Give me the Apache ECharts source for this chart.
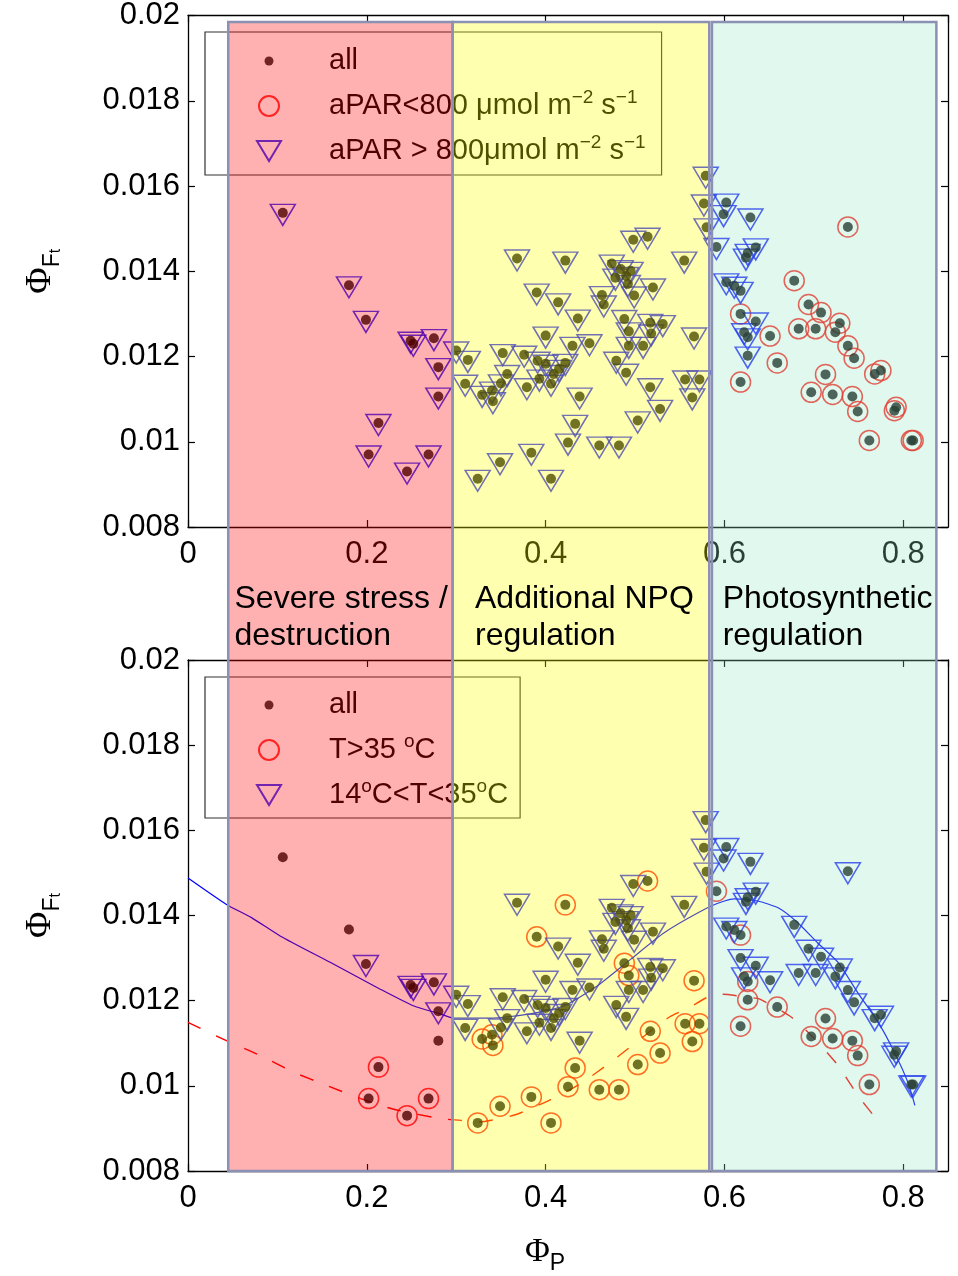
<!DOCTYPE html>
<html>
<head>
<meta charset="utf-8">
<script src="https://cdn.jsdelivr.net/npm/echarts@6/dist/echarts.min.js"></script>
<style>
  html, body { margin: 0; padding: 0; background: #fff; }
  #main { width: 958px; height: 1276px; }
</style>
</head>
<body>
<div id="main"></div>
<script>
var phiP = [
  0.106, 0.180, 0.199, 0.249, 0.252, 0.275, 0.280, 0.280, 0.213, 0.202, 0.269, 0.245,
  0.300, 0.313, 0.310, 0.329, 0.340, 0.341, 0.350, 0.357, 0.352, 0.376, 0.379, 0.391, 0.393, 0.400, 0.406, 0.409, 0.415, 0.422,
  0.400, 0.430, 0.449, 0.438, 0.433, 0.425, 0.384, 0.349, 0.324, 0.406,
  0.460, 0.482, 0.503, 0.528, 0.517, 0.490, 0.479, 0.493, 0.509, 0.493,
  0.488, 0.517, 0.531, 0.518, 0.566, 0.556, 0.572, 0.564, 0.436, 0.414,
  0.390, 0.368, 0.422, 0.463, 0.465, 0.474, 0.478, 0.484, 0.495, 0.492,
  0.490, 0.499, 0.520, 0.498, 0.514, 0.555, 0.579, 0.577, 0.580, 0.591,
  0.602, 0.599, 0.629, 0.738, 0.626, 0.635, 0.624, 0.678, 0.602, 0.611,
  0.618, 0.618, 0.635, 0.622, 0.626, 0.626, 0.618, 0.651, 0.659, 0.694,
  0.708, 0.683, 0.702, 0.729, 0.724, 0.738, 0.745, 0.768, 0.775, 0.713,
  0.697, 0.721, 0.743, 0.749, 0.792, 0.790, 0.762, 0.809, 0.811
];
var phiFt = [
  0.01537, 0.01367, 0.01286, 0.01237, 0.01230, 0.01243, 0.01175, 0.01106, 0.01044, 0.00970, 0.00970, 0.00930,
  0.01214, 0.01192, 0.01136, 0.01110, 0.01120, 0.01095, 0.01137, 0.01159, 0.01208, 0.01204, 0.01128, 0.01190, 0.01148, 0.01183, 0.01136, 0.01159, 0.01171, 0.01185,
  0.01249, 0.01225, 0.01231, 0.01106, 0.01042, 0.00998, 0.00974, 0.00952, 0.00913, 0.00913,
  0.00991, 0.00991, 0.01050, 0.01077, 0.01128, 0.01162, 0.01190, 0.01225, 0.01225, 0.01259,
  0.01288, 0.01279, 0.01276, 0.01254, 0.01247, 0.01146, 0.01146, 0.01104, 0.01289, 0.01327,
  0.01350, 0.01430, 0.01425, 0.01344, 0.01322, 0.01418, 0.01385, 0.01405, 0.01401, 0.01370,
  0.01389, 0.01343, 0.01362, 0.01474, 0.01481, 0.01425, 0.01624, 0.01559, 0.01503, 0.01457,
  0.01561, 0.01534, 0.01526, 0.01504, 0.01443, 0.01456, 0.01432, 0.01378, 0.01374, 0.01366,
  0.01354, 0.01300, 0.01282, 0.01257, 0.01245, 0.01202, 0.01140, 0.01248, 0.01185, 0.01322,
  0.01303, 0.01265, 0.01265, 0.01278, 0.01257, 0.01225, 0.01196, 0.01159, 0.01167, 0.01158,
  0.01116, 0.01111, 0.01106, 0.01071, 0.01081, 0.01073, 0.01003, 0.01003, 0.01003
];
// top panel: aPAR class (lo = <800, hi = >800)
var aparClass = [
  'hi','hi','hi','hi','hi','hi','hi','hi','hi','hi','hi','hi',
  'hi','hi','hi','hi','hi','hi','hi','hi','hi','hi','hi','hi','hi','hi','hi','hi','hi','hi',
  'hi','hi','hi','hi','hi','hi','hi','hi','hi','hi',
  'hi','hi','hi','hi','hi','hi','hi','hi','hi','hi',
  'hi','hi','hi','hi','hi','hi','hi','hi','hi','hi',
  'hi','hi','hi','hi','hi','hi','hi','hi','hi','hi',
  'hi','hi','hi','hi','hi','hi','hi','hi','hi','hi',
  'hi','hi','hi','lo','hi','hi','hi','lo','hi','hi',
  'hi','lo','hi','hi','hi','hi','lo','lo','lo','lo',
  'lo','lo','lo','lo','lo','lo','lo','lo','lo','lo',
  'lo','lo','lo','lo','lo','lo','lo','lo','lo'
];
// bottom panel: temperature class (hot = >35C, mid = 14..35C, cool = neither)
var tempClass = [
  'cool','cool','mid','mid','mid','mid','mid','cool','hot','hot','hot','hot',
  'mid','mid','mid','hot','hot','hot','mid','mid','mid','mid','mid','mid','mid','mid','mid','mid','mid','mid',
  'mid','mid','mid','mid','hot','hot','hot','hot','hot','hot',
  'hot','hot','hot','hot','hot','mid','mid','mid','mid','hot',
  'hot','mid','mid','mid','hot','hot','hot','hot','mid','mid',
  'hot','mid','hot','mid','mid','mid','mid','mid','mid','mid',
  'mid','mid','mid','mid','hot','mid','mid','mid','mid','hot',
  'mid','mid','mid','mid','mid','mid','mid','mid','mid','mid',
  'hot','mid','mid','mid','hot','hot','hot','mid','hot','mid',
  'mid','mid','mid','mid','mid','mid','mid','mid','mid','hot',
  'hot','hot','hot','hot','mid','mid','hot','mid','mid'
];

// fitted curves in the bottom panel
var blueFitP = [0.000, 0.043, 0.071, 0.103, 0.159, 0.215, 0.252, 0.282, 0.297, 0.338, 0.383, 0.421, 0.458, 0.495,
  0.533, 0.581, 0.600, 0.611, 0.637, 0.660, 0.682, 0.704, 0.727, 0.749, 0.772, 0.790, 0.805, 0.813];
var blueFitF = [0.01488, 0.01426, 0.01395, 0.01352, 0.01290, 0.01227, 0.01188, 0.01169, 0.01159, 0.01159, 0.01169, 0.01188, 0.01235, 0.01297,
  0.01360, 0.01418, 0.01434, 0.01439, 0.01434, 0.01418, 0.01383, 0.01336, 0.01290, 0.01219, 0.01149, 0.01079, 0.01009, 0.00954];
var redFitP = [0.000, 0.043, 0.081, 0.118, 0.155, 0.193, 0.230, 0.282, 0.305, 0.324, 0.366, 0.404, 0.439,
  0.473, 0.506, 0.538, 0.561, 0.581, 0.598, 0.626, 0.639, 0.675, 0.701, 0.727, 0.749, 0.768];
var redFitF = [0.01149, 0.01106, 0.01071, 0.01032, 0.01001, 0.00970, 0.00945, 0.00923, 0.00919, 0.00915, 0.00932, 0.00966, 0.01005,
  0.01056, 0.01110, 0.01161, 0.01184, 0.01208, 0.01215, 0.01208, 0.01204, 0.01161, 0.01110, 0.01048, 0.00978, 0.00927];

// regimes along Phi_P
var regionEdges = [[0.045, 0.296], [0.296, 0.583], [0.586, 0.837]];
var regionLabels = ['Severe stress /\ndestruction', 'Additional NPQ\nregulation', 'Photosynthetic\nregulation'];
var regionLabelP = [0.052, 0.321, 0.598];

var xMin = 0, xMax = 0.85, xStep = 0.2;
var yMin = 0.008, yMax = 0.02, yStep = 0.002;

var font = 'Liberation Sans';
var fills = ['rgba(255,0,0,0.31)', 'rgba(255,255,0,0.31)', 'rgba(143,229,189,0.28)'];

var chart = echarts.init(document.getElementById('main'));

function pick(cls, key) {
  var out = [];
  for (var i = 0; i < phiP.length; i++) {
    if (cls[i] === key) out.push([phiP[i], phiFt[i]]);
  }
  return out;
}
function zip(a, b) {
  return a.map(function (v, i) { return [v, b[i]]; });
}

var allPts = zip(phiP, phiFt);
var triSymbol = 'path://M0 0L24 0L12 20Z';
var dotIcon = 'path://M0 0M108 30M48.5 15A4.5 4.5 0 1 1 57.5 15A4.5 4.5 0 1 1 48.5 15Z';
var ringIcon = 'path://M0 0M108 30M43 15A10 10 0 1 1 63 15A10 10 0 1 1 43 15Z';
var triIcon = 'path://M0 0M108 30M41 5L65 5L53 25Z';

var legendText = {
  'all': 'all',
  'aPAR<800': 'aPAR<800 \u03bcmol m{sup|\u22122} s{sup|\u22121}',
  'aPAR>800': 'aPAR > 800\u03bcmol m{sup|\u22122} s{sup|\u22121}',
  'T>35': 'T>35 {sup|o}C',
  '14<T<35': '14{sup|o}C<T<35{sup|o}C'
};

function makeXAxis(grid, pos, name) {
  return {
    gridIndex: grid, type: 'value', position: pos,
    min: xMin, max: xMax, interval: xStep,
    name: name || '', nameLocation: 'middle', nameGap: 58,
    nameTextStyle: {
      padding: [0, 46, 0, 0], lineHeight: 46,
      rich: {
        phi: { fontFamily: 'Liberation Serif', fontSize: 34, color: '#000' },
        p: { fontFamily: font, fontSize: 23, color: '#000', verticalAlign: 'bottom' }
      }
    },
    axisLine: { onZero: false, lineStyle: { color: '#000', width: 1.3 } },
    axisTick: { inside: true, length: 7, lineStyle: { color: '#000', width: 1.2 } },
    axisLabel: { show: pos === 'bottom', showMaxLabel: false, margin: 12, fontSize: 31, fontFamily: font, color: '#000' },
    splitLine: { show: false }
  };
}
function makeYAxis(grid, pos) {
  return {
    gridIndex: grid, type: 'value', position: pos,
    min: yMin, max: yMax, interval: yStep,
    name: pos === 'left' ? '{phi|\u03a6}{f|F}{t|t}' : '',
    nameLocation: 'middle', nameRotate: 90, nameGap: 124,
    nameTextStyle: {
      lineHeight: 46,
      rich: {
        phi: { fontFamily: 'Liberation Serif', fontSize: 36, color: '#000' },
        f: { fontFamily: font, fontSize: 23, color: '#000', verticalAlign: 'bottom', lineHeight: 32 },
        t: { fontFamily: font, fontSize: 16, color: '#000', verticalAlign: 'bottom' }
      }
    },
    axisLine: { onZero: false, lineStyle: { color: '#000', width: 1.3 } },
    axisTick: { inside: true, length: 7, lineStyle: { color: '#000', width: 1.2 } },
    axisLabel: { show: pos === 'left', margin: 8, fontSize: 31, fontFamily: font, color: '#000' },
    splitLine: { show: false }
  };
}
function makeLegend(top, pad, names, icons) {
  return {
    left: 205, top: top, orient: 'vertical', selectedMode: false,
    itemWidth: 108, itemHeight: 30, itemGap: 9,
    padding: pad, borderColor: '#333', borderWidth: 1.2,
    data: names.map(function (n, i) { return { name: n, icon: icons[i] }; }),
    formatter: function (n) { return legendText[n]; },
    textStyle: {
      fontFamily: font, fontSize: 29, color: '#000', lineHeight: 36,
      rich: { sup: { fontFamily: font, fontSize: 19, color: '#000', verticalAlign: 'top' } }
    }
  };
}
function markerSeries(name, grid, data, kind) {
  var s = { name: name, type: 'scatter', xAxisIndex: grid * 2, yAxisIndex: grid * 2, data: data, z: 3 };
  if (kind === 'ring') {
    s.symbol = 'circle'; s.symbolSize = 20;
    s.itemStyle = { color: 'rgba(0,0,0,0)', borderColor: '#ff0000', borderWidth: 1.5 };
  } else if (kind === 'tri') {
    s.symbol = triSymbol; s.symbolSize = [25, 21]; s.symbolOffset = [0, 2];
    s.itemStyle = { color: 'rgba(0,0,0,0)', borderColor: '#0000ff', borderWidth: 1.5 };
  } else {
    s.symbol = 'circle'; s.symbolSize = 10; s.z = 5;
    s.itemStyle = { color: '#000' };
  }
  return s;
}

var option = {
  animation: false,
  backgroundColor: '#fff',
  grid: [
    { left: 188, right: 10, top: 15, height: 512 },
    { left: 188, right: 10, top: 660, height: 513 }
  ],
  xAxis: [makeXAxis(0, 'bottom'), makeXAxis(0, 'top'), makeXAxis(1, 'bottom', '{phi|\u03a6}{p|P}'), makeXAxis(1, 'top')],
  yAxis: [makeYAxis(0, 'left'), makeYAxis(0, 'right'), makeYAxis(1, 'left'), makeYAxis(1, 'right')],
  legend: [
    makeLegend(32, [11, 16, 6, 10], ['all', 'aPAR<800', 'aPAR>800'], [dotIcon, ringIcon, triIcon]),
    makeLegend(677, [10, 12, 5, 10], ['all', 'T>35', '14<T<35'], [dotIcon, ringIcon, triIcon])
  ],
  series: [
    markerSeries('aPAR<800', 0, pick(aparClass, 'lo'), 'ring'),
    markerSeries('aPAR>800', 0, pick(aparClass, 'hi'), 'tri'),
    markerSeries('all', 0, allPts, 'dot'),
    markerSeries('T>35', 1, pick(tempClass, 'hot'), 'ring'),
    markerSeries('14<T<35', 1, pick(tempClass, 'mid'), 'tri'),
    {
      type: 'line', xAxisIndex: 2, yAxisIndex: 2, data: zip(blueFitP, blueFitF),
      showSymbol: false, smooth: 0.2, z: 4,
      lineStyle: { color: '#0000ff', width: 1.2 }
    },
    {
      type: 'line', xAxisIndex: 2, yAxisIndex: 2, data: zip(redFitP, redFitF),
      showSymbol: false, smooth: 0.2, z: 4,
      lineStyle: { color: '#ff0000', width: 1.4, type: [14, 17] }
    },
    markerSeries('all', 1, allPts, 'dot')
  ]
};
chart.setOption(option);

// shaded regimes span both panels and the gap between them
var topPx = chart.convertToPixel({ gridIndex: 0 }, [0, 0.01985])[1];
var botPx = chart.convertToPixel({ gridIndex: 1 }, [0, yMin])[1];
var graphics = [];
regionEdges.forEach(function (edge, i) {
  var x0 = chart.convertToPixel({ gridIndex: 0 }, [edge[0], yMin])[0];
  var x1 = chart.convertToPixel({ gridIndex: 0 }, [edge[1], yMin])[0];
  graphics.push({
    type: 'rect', z: 100,
    shape: { x: x0, y: topPx, width: x1 - x0, height: botPx - topPx },
    style: { fill: fills[i], stroke: '#8a91b3', lineWidth: 2.5 }
  });
  graphics.push({
    type: 'text', z: 101,
    x: chart.convertToPixel({ gridIndex: 0 }, [regionLabelP[i], yMin])[0], y: 581,
    style: { text: regionLabels[i], fontFamily: font, fontSize: 32, lineHeight: 37, fill: '#000', align: 'left', verticalAlign: 'top' }
  });
});
chart.setOption({ graphic: graphics });
</script>
</body>
</html>
